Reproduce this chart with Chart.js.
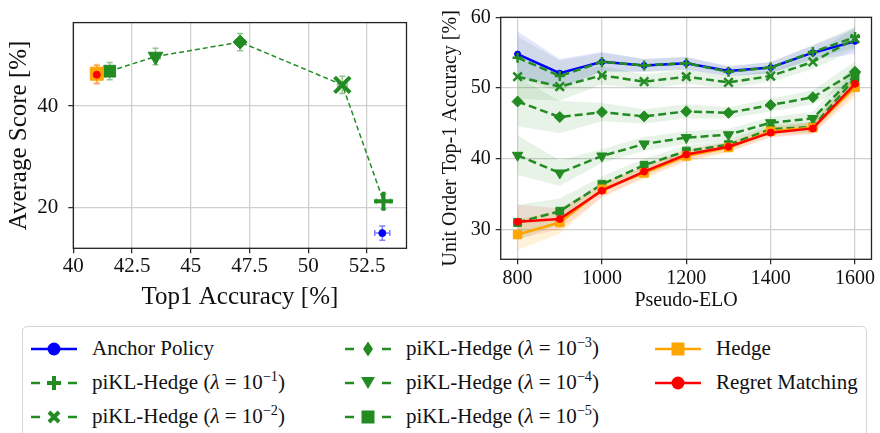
<!DOCTYPE html>
<html lang="en">
<head>
<meta charset="UTF-8">
<script src="https://cdn.jsdelivr.net/npm/chart.js"></script>
<title>piKL-Hedge accuracy</title>
<style>
  body { margin:0; width:880px; height:433px; background:#fff; position:relative; overflow:hidden; font-family:"Liberation Serif", serif; }
  #leftBox { position:absolute; left:0; top:0; width:420px; height:322px; }
  #rightBox { position:absolute; left:430px; top:0; width:450px; height:320px; }
  #legend { position:absolute; left:22px; top:326px; width:845px; height:130px; border:1px solid #d4d4d4; border-radius:5px; box-sizing:border-box; }
  .item { position:absolute; height:30px; display:flex; align-items:center; font-size:21px; white-space:nowrap; color:#111; }
  .item svg { flex:none; }
  .item span { position:absolute; }
  sup { font-size:0.68em; vertical-align:baseline; position:relative; top:-0.55em; }
</style>
</head>
<body>
<div id="leftBox"><canvas id="left"></canvas></div>
<div id="rightBox"><canvas id="right"></canvas></div>
<div id="legend"></div>

<script>
// ---- left panel: top1 accuracy vs average score ----
// order: anchor, 1e-1, 1e-2, 1e-3, 1e-4, 1e-5, hedge, regret matching
const leftTop1 = [53.15, 53.2, 51.45, 47.1, 43.5, 41.55, 41.0, 41.0];
const leftTop1Err = [0.32, 0.3, 0.2, 0.2, 0.2, 0.2, 0.2, 0.15];
const leftScore = [14.9, 21.2, 44.2, 52.65, 49.8, 46.9, 46.4, 46.2];
const leftScoreErr = [1.4, 1.5, 1.7, 1.7, 1.65, 1.7, 1.8, 1.8];
const leftXTicks = [40, 42.5, 45, 47.5, 50, 52.5];
const leftYTicks = [20, 40];

// ---- right panel: accuracy per pseudo-ELO ----
const elo = [800, 900, 1000, 1100, 1200, 1300, 1400, 1500, 1600];
const anchorAcc = [54.8, 52.1, 53.7, 53.2, 53.5, 52.4, 52.9, 55.0, 56.6];
const anchorErr = [3.2, 2.0, 1.4, 0.9, 0.9, 0.7, 0.8, 1.0, 1.8];
const lam1Acc = [54.3, 51.7, 53.7, 53.2, 53.5, 52.3, 52.9, 55.1, 57.2];
const lam1Err = [3.0, 2.2, 1.3, 0.9, 0.9, 0.7, 0.8, 1.0, 1.5];
const lam2Acc = [51.6, 50.2, 51.8, 50.9, 51.6, 50.8, 51.7, 53.7, 57.0];
const lam2Err = [3.1, 2.0, 1.3, 1.0, 1.0, 0.8, 0.8, 1.0, 1.6];
const lam3Acc = [48.1, 45.9, 46.6, 46.0, 46.7, 46.5, 47.6, 48.7, 52.3];
const lam3Err = [3.5, 2.3, 1.3, 1.0, 1.0, 0.8, 0.9, 1.0, 1.5];
const lam4Acc = [40.5, 38.0, 40.4, 42.1, 43.0, 43.4, 45.1, 45.7, 51.8];
const lam4Err = [2.8, 1.8, 1.0, 1.0, 0.9, 0.8, 0.8, 0.9, 1.6];
const lam5Acc = [31.0, 32.6, 36.4, 39.1, 41.1, 42.0, 44.2, 44.5, 51.4];
const lam5Err = [2.5, 1.8, 1.1, 0.9, 0.8, 0.7, 0.7, 0.8, 1.4];
const hedgeAcc = [29.3, 31.0, 35.7, 38.0, 40.4, 41.6, 43.9, 44.4, 50.1];
const hedgeErr = [2.2, 1.6, 1.0, 0.8, 0.8, 0.7, 0.7, 0.8, 1.4];
const rmAcc = [31.1, 31.5, 35.5, 38.2, 40.6, 41.7, 43.7, 44.3, 50.6];
const rmErr = [2.4, 1.5, 1.0, 0.8, 0.8, 0.7, 0.7, 0.8, 1.3];
const rightYTicks = [30, 40, 50, 60];
const rightXTicks = [800, 1000, 1200, 1400, 1600];

const lambdaExp = ['\u22121', '\u22122', '\u22123', '\u22124', '\u22125'];

const FONT = 'Liberation Serif';
const GREEN = '#228b22';

// frame around the plot area
const framePlugin = {
  id: 'frame',
  afterDatasetsDraw(chart) {
    const {ctx, chartArea: a} = chart;
    ctx.save();
    ctx.strokeStyle = '#222';
    ctx.lineWidth = 1.3;
    ctx.strokeRect(a.left, a.top, a.width, a.height);
    ctx.restore();
  }
};

// x/y error bars for the left panel
const errorBarPlugin = {
  id: 'errorBars',
  beforeDatasetsDraw(chart) {
    const {ctx, scales: {x, y}} = chart;
    chart.data.datasets.forEach(ds => {
      if (!ds.errColor) return;
      ctx.save();
      ctx.strokeStyle = ds.errColor;
      ctx.lineWidth = 1.5;
      ds.data.forEach(p => {
        const px = x.getPixelForValue(p.x), py = y.getPixelForValue(p.y);
        const x0 = x.getPixelForValue(p.x - p.xErr), x1 = x.getPixelForValue(p.x + p.xErr);
        const y0 = y.getPixelForValue(p.y - p.yErr), y1 = y.getPixelForValue(p.y + p.yErr);
        ctx.beginPath();
        ctx.moveTo(x0, py); ctx.lineTo(x1, py);
        ctx.moveTo(px, y0); ctx.lineTo(px, y1);
        ctx.moveTo(x0, py - 3); ctx.lineTo(x0, py + 3);
        ctx.moveTo(x1, py - 3); ctx.lineTo(x1, py + 3);
        ctx.moveTo(px - 3, y0); ctx.lineTo(px + 3, y0);
        ctx.moveTo(px - 3, y1); ctx.lineTo(px + 3, y1);
        ctx.stroke();
      });
      ctx.restore();
    });
  }
};

function axis(min, max, ticks, size, tickPad, fitFn, title, titleSize, titlePad) {
  return {
    type: 'linear', min: min, max: max,
    afterBuildTicks: s => { s.ticks = ticks.map(v => ({value: v})); },
    afterFit: fitFn,
    ticks: { callback: v => String(v), font: {family: FONT, size: size}, color: '#111', padding: tickPad, maxRotation: 0, autoSkip: false },
    grid: { color: '#d0d0d0', lineWidth: 1.3, tickLength: 5, tickColor: '#222', tickWidth: 1.2 },
    border: { display: false },
    title: { display: true, text: title, color: '#111', font: {family: FONT, size: titleSize}, padding: titlePad }
  };
}

const pt = i => ({x: leftTop1[i], y: leftScore[i], xErr: leftTop1Err[i], yErr: leftScoreErr[i]});
const piklIdx = [5, 4, 3, 2, 1];

new Chart(document.getElementById('left'), {
  type: 'line',
  data: {
    datasets: [
      { data: [pt(7)], showLine: false, pointStyle: 'circle', pointRadius: 3.5, backgroundColor: 'red', borderColor: 'red', errColor: 'rgba(255,0,0,0.4)' },
      { data: [pt(6)], showLine: false, pointStyle: 'rect', pointRadius: 9.2, backgroundColor: 'orange', borderColor: 'orange', errColor: 'rgba(255,165,0,0.5)' },
      { data: piklIdx.map(pt), borderColor: GREEN, backgroundColor: GREEN, borderWidth: 1.5, borderDash: [5, 3],
        pointStyle: ['rect', 'triangle', 'rectRot', 'crossRot', 'cross'],
        pointRotation: [0, 180, 0, 0, 0],
        pointRadius: [8.3, 8.5, 7, 11, 9.5],
        pointBorderWidth: [1, 1, 1, 4, 4],
        errColor: 'rgba(34,139,34,0.5)' },
      { data: [pt(0)], showLine: false, pointStyle: 'circle', pointRadius: 3.5, backgroundColor: 'blue', borderColor: 'blue', errColor: 'rgba(0,0,255,0.5)' }
    ]
  },
  options: {
    responsive: true, maintainAspectRatio: false, animation: false,
    layout: { padding: {top: 5, right: 12.7, left: 0, bottom: 0} },
    plugins: { legend: {display: false}, tooltip: {enabled: false} },
    scales: {
      x: axis(40, 54.18, leftXTicks, 21, 1, s => { s.height = 73.7; }, 'Top1 Accuracy [%]', 25, {top: 0, bottom: 10}),
      y: axis(11.9, 56.5, leftYTicks, 21, 10, s => { s.width = 73.3; }, 'Average Score [%]', 25, {top: 4.5, bottom: 0})
    }
  },
  plugins: [errorBarPlugin, framePlugin]
});

function line(vals, color, style, dashed, r, bw, rot, order) {
  return {
    data: elo.map((x, i) => ({x: x, y: vals[i]})),
    borderColor: color, backgroundColor: color, borderWidth: 2.5,
    borderDash: dashed ? [8, 4] : [], pointStyle: style, pointRadius: r,
    pointBorderWidth: bw, pointRotation: rot, fill: false, order: order
  };
}
function band(vals, errs, fillColor) {
  return [
    { data: elo.map((x, i) => ({x: x, y: vals[i] - errs[i]})), pointRadius: 0, borderWidth: 0, fill: false, order: 10 },
    { data: elo.map((x, i) => ({x: x, y: vals[i] + errs[i]})), pointRadius: 0, borderWidth: 0, fill: '-1', backgroundColor: fillColor, order: 10 }
  ];
}

const greenBand = 'rgba(34,139,34,0.1)';
new Chart(document.getElementById('right'), {
  type: 'line',
  data: {
    datasets: [
      ...band(anchorAcc, anchorErr, 'rgba(0,0,255,0.1)'),
      ...band(lam1Acc, lam1Err, greenBand),
      ...band(lam2Acc, lam2Err, greenBand),
      ...band(lam3Acc, lam3Err, greenBand),
      ...band(lam4Acc, lam4Err, greenBand),
      ...band(lam5Acc, lam5Err, greenBand),
      ...band(hedgeAcc, hedgeErr, 'rgba(255,165,0,0.15)'),
      ...band(rmAcc, rmErr, 'rgba(255,0,0,0.1)'),
      line(anchorAcc, 'blue', 'circle', false, 3, 1, 0, 4),
      line(lam1Acc, GREEN, 'cross', true, 5, 2.5, 0, 3),
      line(lam2Acc, GREEN, 'crossRot', true, 6, 2.5, 0, 3),
      line(lam3Acc, GREEN, 'rectRot', true, 5.5, 1, 0, 3),
      line(lam4Acc, GREEN, 'triangle', true, 6, 1, 180, 3),
      line(lam5Acc, GREEN, 'rect', true, 5.5, 1, 0, 3),
      line(hedgeAcc, 'orange', 'rect', false, 6, 1, 0, 2),
      line(rmAcc, 'red', 'circle', false, 3.5, 1, 0, 1)
    ]
  },
  options: {
    responsive: true, maintainAspectRatio: false, animation: false,
    layout: { padding: {top: 17.3, right: 4, left: 0, bottom: 0} },
    elements: { line: { tension: 0 } },
    plugins: { legend: {display: false}, tooltip: {enabled: false} },
    scales: {
      x: axis(760, 1639, rightXTicks, 20, 2, s => { s.height = 60.7; }, 'Pseudo-ELO', 20, {top: 0, bottom: 7}),
      y: axis(25.8, 60, rightYTicks, 20, 5, s => { s.width = 70.7; }, 'Unit Order Top-1 Accuracy [%]', 20, {top: 9, bottom: 0})
    }
  },
  plugins: [framePlugin]
});

// ---- legend (HTML, three columns) ----
function marker(style, color) {
  switch (style) {
    case 'circle': return `<circle cx="23" cy="12" r="6.5" fill="${color}"/>`;
    case 'square': return `<rect x="16.5" y="5.5" width="13" height="13" fill="${color}"/>`;
    case 'plus': return `<path d="M16 12H30M23 5V19" stroke="${color}" stroke-width="4"/>`;
    case 'x': return `<path d="M18 7L28 17M28 7L18 17" stroke="${color}" stroke-width="4"/>`;
    case 'diamond': return `<polygon points="23,4.5 28,12 23,19.5 18,12" fill="${color}"/>`;
    case 'tri': return `<polygon points="16,6 30,6 23,18" fill="${color}"/>`;
  }
}
function swatch(style, color, dashed) {
  const ln = dashed
    ? `<path d="M0 12H9M37 12H46" stroke="${color}" stroke-width="2.5"/>`
    : `<path d="M0 12H46" stroke="${color}" stroke-width="2.5"/>`;
  return `<svg width="46" height="24">${ln}${marker(style, color)}</svg>`;
}
const pikl = e => `piKL-Hedge (<i>\u03bb</i> = 10<sup>${e}</sup>)`;
const legendItems = [
  {col: 0, row: 0, style: 'circle', color: 'blue', dashed: false, html: 'Anchor Policy'},
  {col: 0, row: 1, style: 'plus', color: GREEN, dashed: true, html: pikl(lambdaExp[0])},
  {col: 0, row: 2, style: 'x', color: GREEN, dashed: true, html: pikl(lambdaExp[1])},
  {col: 1, row: 0, style: 'diamond', color: GREEN, dashed: true, html: pikl(lambdaExp[2])},
  {col: 1, row: 1, style: 'tri', color: GREEN, dashed: true, html: pikl(lambdaExp[3])},
  {col: 1, row: 2, style: 'square', color: GREEN, dashed: true, html: pikl(lambdaExp[4])},
  {col: 2, row: 0, style: 'square', color: 'orange', dashed: false, html: 'Hedge'},
  {col: 2, row: 1, style: 'circle', color: 'red', dashed: false, html: 'Regret Matching'}
];
const colX = [8, 322, 632];
const rowY = [21.5, 55.5, 89.5];
const leg = document.getElementById('legend');
legendItems.forEach(it => {
  const d = document.createElement('div');
  d.className = 'item';
  d.style.left = colX[it.col] + 'px';
  d.style.top = (rowY[it.row] - 15) + 'px';
  d.innerHTML = swatch(it.style, it.color, it.dashed) + `<span style="left:61px">${it.html}</span>`;
  leg.appendChild(d);
});
</script>
</body>
</html>
